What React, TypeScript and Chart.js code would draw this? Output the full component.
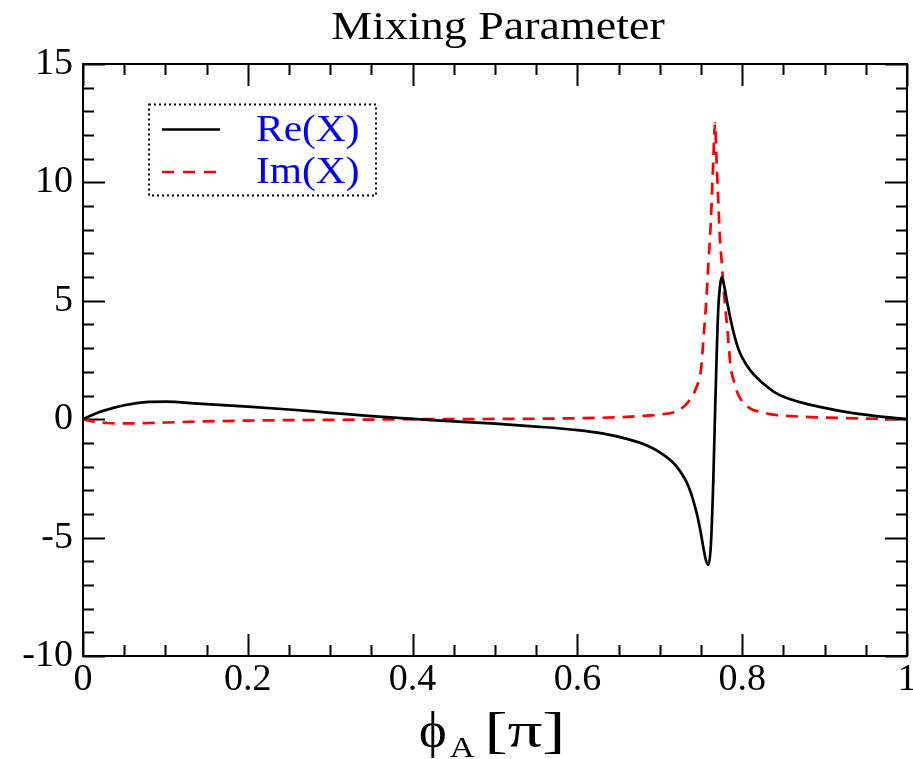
import React, { useEffect, useRef } from "react";
import { Chart, registerables } from "chart.js";

Chart.register(...registerables);

// ---- data ----
const phi = [0, 0.005, 0.01, 0.02, 0.03, 0.04, 0.05, 0.065, 0.08, 0.1, 0.14, 0.2, 0.25, 0.3, 0.35, 0.4, 0.45, 0.5, 0.55, 0.6, 0.63, 0.66, 0.68, 0.7, 0.72, 0.735, 0.745, 0.75, 0.753, 0.756, 0.759, 0.762, 0.765, 0.767, 0.769, 0.771, 0.773, 0.775, 0.778, 0.782, 0.786, 0.79, 0.795, 0.8, 0.81, 0.82, 0.83, 0.84, 0.855, 0.87, 0.89, 0.92, 0.96, 1.0];
const reX = [0, 0.08, 0.16, 0.3, 0.41, 0.51, 0.59, 0.68, 0.73, 0.74, 0.66, 0.53, 0.41, 0.27, 0.13, 0.01, -0.09, -0.19, -0.31, -0.46, -0.6, -0.83, -1.05, -1.4, -1.98, -2.85, -4.0, -4.85, -5.45, -5.95, -6.15, -5.3, -2.5, 0.2, 2.7, 4.7, 5.6, 6.0, 5.65, 4.9, 4.2, 3.6, 3.0, 2.6, 2.05, 1.68, 1.38, 1.12, 0.88, 0.72, 0.55, 0.34, 0.14, 0];
const imX = [0, -0.04, -0.08, -0.13, -0.16, -0.175, -0.18, -0.175, -0.16, -0.14, -0.1, -0.06, -0.04, -0.03, -0.015, 0, 0, 0.01, 0.02, 0.04, 0.06, 0.1, 0.14, 0.2, 0.33, 0.75, 1.4, 2.1, 3.4, 4.8, 6.6, 8.4, 11.0, 12.5, 10.8, 9.2, 7.6, 6.7, 5.3, 3.8, 2.2, 1.6, 1.05, 0.75, 0.45, 0.32, 0.24, 0.18, 0.14, 0.11, 0.08, 0.05, 0.02, 0];
const xMajorTicks = [0, 0.2, 0.4, 0.6, 0.8, 1];
const xTickLabels = ["0", "0.2", "0.4", "0.6", "0.8", "1"];
const yMajorTicks = [-10, -5, 0, 5, 10, 15];
const yTickLabels = ["-10", "-5", "0", "5", "10", "15"];
const titleText = "Mixing Parameter";
const legendLabels = ["Re(X)", "Im(X)"];
const xTitleMain = "\u03D5";
const xTitleSub = "A";
const xTitleRest = "[\u03C0]";

// ---- layout / style ----
const W = 913;
const H = 759;
const AREA = { left: 83, right: 907, top: 64, bottom: 656 };
const SERIF = '"Liberation Serif", "Times New Roman", serif';

function stretchedText(
  ctx: CanvasRenderingContext2D,
  text: string,
  x: number,
  y: number,
  size: number,
  sx: number,
  align: "left" | "center" | "right",
  color: string
) {
  ctx.save();
  ctx.font = `${size}px ${SERIF}`;
  ctx.fillStyle = color;
  ctx.textBaseline = "alphabetic";
  ctx.textAlign = "left";
  const w = ctx.measureText(text).width * sx;
  const x0 = align === "center" ? x - w / 2 : align === "right" ? x - w : x;
  ctx.translate(x0, y);
  ctx.scale(sx, 1);
  ctx.fillText(text, 0, 0);
  ctx.restore();
  return w;
}

const framePlugin = {
  id: "graceFrame",
  beforeDatasetsDraw(chart: any) {
    const { ctx, chartArea: a, scales } = chart;
    const xs = scales.x;
    const ys = scales.y;
    ctx.save();
    ctx.strokeStyle = "#000";
    ctx.lineWidth = 2;
    ctx.beginPath();
    const major = 22;
    const minor = 11;
    const nx = Math.round((xs.max - xs.min) / 0.05);
    for (let i = 0; i <= nx; i++) {
      const v = xs.min + i * 0.05;
      const len = i % 4 === 0 ? major : minor;
      const px = Math.round(xs.getPixelForValue(v)) + 0.5;
      ctx.moveTo(px, a.bottom);
      ctx.lineTo(px, a.bottom - len);
      ctx.moveTo(px, a.top);
      ctx.lineTo(px, a.top + len);
    }
    const ny = Math.round(ys.max - ys.min);
    for (let i = 0; i <= ny; i++) {
      const v = ys.min + i;
      const len = i % 5 === 0 ? major : minor;
      const py = Math.round(ys.getPixelForValue(v)) + 0.5;
      ctx.moveTo(a.left, py);
      ctx.lineTo(a.left + len, py);
      ctx.moveTo(a.right, py);
      ctx.lineTo(a.right - len, py);
    }
    ctx.stroke();
    ctx.strokeRect(a.left, a.top, a.right - a.left, a.bottom - a.top);
    ctx.restore();
  },
  afterDraw(chart: any) {
    const ctx: CanvasRenderingContext2D = chart.ctx;
    // title
    stretchedText(ctx, titleText, 498, 39, 39, 1.18, "center", "#000");
    // x axis title with subscript
    let x = 419;
    x += stretchedText(ctx, xTitleMain, x, 747, 50, 1.05, "left", "#000");
    x += 3;
    x += stretchedText(ctx, xTitleSub, x, 757, 30, 1.15, "left", "#000");
    x += 10;
    stretchedText(ctx, xTitleRest, x, 747, 50, 1.38, "left", "#000");

    // legend
    ctx.save();
    ctx.strokeStyle = "#000";
    ctx.lineWidth = 2;
    ctx.setLineDash([2, 3]);
    ctx.strokeRect(149, 104.5, 227, 91);
    ctx.setLineDash([]);
    ctx.lineWidth = 2.5;
    ctx.strokeStyle = "#000";
    ctx.beginPath();
    ctx.moveTo(162, 129.5);
    ctx.lineTo(220, 129.5);
    ctx.stroke();
    ctx.strokeStyle = "#ff0000";
    ctx.setLineDash([12, 9]);
    ctx.beginPath();
    ctx.moveTo(162, 172);
    ctx.lineTo(220, 172);
    ctx.stroke();
    ctx.restore();
    stretchedText(ctx, legendLabels[0], 256, 141, 37, 1.12, "left", "#0000ff");
    stretchedText(ctx, legendLabels[1], 256, 183, 37, 1.12, "left", "#0000ff");
  },
};

export default function App() {
  const canvasRef = useRef<HTMLCanvasElement | null>(null);

  useEffect(() => {
    const canvas = canvasRef.current;
    if (!canvas) return;
    const chart = new Chart(canvas, {
      type: "line",
      data: {
        datasets: [
          {
            label: legendLabels[0],
            data: phi.map((x, i) => ({ x, y: reX[i] })),
            borderColor: "#000000",
            borderWidth: 2.7,
            pointRadius: 0,
            fill: false,
            cubicInterpolationMode: "monotone",
          },
          {
            label: legendLabels[1],
            data: phi.map((x, i) => ({ x, y: imX[i] })),
            borderColor: "#ff0000",
            borderWidth: 2.7,
            borderDash: [12, 8],
            pointRadius: 0,
            fill: false,
            cubicInterpolationMode: "monotone",
          },
        ],
      },
      options: {
        responsive: false,
        animation: false,
        layout: { padding: { left: 0, right: W - AREA.right, top: AREA.top, bottom: 0 } },
        plugins: {
          legend: { display: false },
          title: { display: false },
          tooltip: { enabled: false },
        },
        scales: {
          x: {
            type: "linear",
            min: 0,
            max: 1,
            grid: { display: false, drawTicks: false },
            border: { display: false },
            afterBuildTicks: (s: any) => {
              s.ticks = xMajorTicks.map((v) => ({ value: v }));
            },
            ticks: {
              color: "#000",
              font: { family: SERIF, size: 38 },
              padding: 1,
              maxRotation: 0,
              autoSkip: false,
              callback: (_v: any, i: number) => xTickLabels[i],
            },
            afterFit: (s: any) => {
              s.height = H - AREA.bottom;
              s.paddingLeft = 0;
              s.paddingRight = 0;
            },
          },
          y: {
            type: "linear",
            min: -10,
            max: 15,
            grid: { display: false, drawTicks: false },
            border: { display: false },
            afterBuildTicks: (s: any) => {
              s.ticks = yMajorTicks.map((v) => ({ value: v }));
            },
            ticks: {
              color: "#000",
              font: { family: SERIF, size: 38 },
              padding: 10,
              autoSkip: false,
              callback: (_v: any, i: number) => yTickLabels[i],
            },
            afterFit: (s: any) => {
              s.width = AREA.left;
              s.paddingTop = 0;
              s.paddingBottom = 0;
            },
          },
        },
      },
      plugins: [framePlugin],
    } as any);
    return () => chart.destroy();
  }, []);

  return (
    <div style={{ position: "absolute", left: 0, top: 0, width: W, height: H, background: "#fff" }}>
      <canvas ref={canvasRef} width={W} height={H} style={{ display: "block" }} />
    </div>
  );
}
